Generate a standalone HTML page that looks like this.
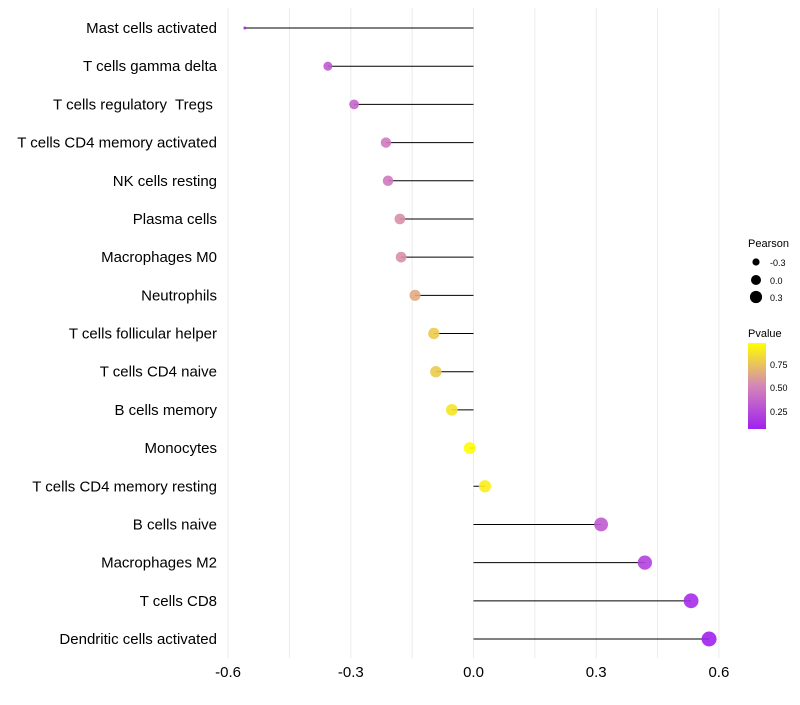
<!DOCTYPE html>
<html><head><meta charset="utf-8"><style>
body{margin:0;background:#fff;font-family:"Liberation Sans",sans-serif}
text{white-space:pre}
</style></head><body>
<svg id="chart" width="800" height="700" xmlns="http://www.w3.org/2000/svg" font-family="Liberation Sans, sans-serif">
<defs><linearGradient id="pg" x1="0" y1="1" x2="0" y2="0">
<stop offset="0" stop-color="#a020f0"/><stop offset="0.5" stop-color="#d486b8"/><stop offset="1" stop-color="#ffff00"/></linearGradient></defs>
<g id="grid"></g><g id="marks"></g><g id="labels"></g><g id="ticks"></g>
<g>
<text x="748" y="247" font-size="11">Pearson</text>
<circle cx="756" cy="262" r="3.6" fill="#000"/><text x="770" y="266" font-size="9">-0.3</text>
<circle cx="756" cy="280" r="5" fill="#000"/><text x="770" y="284" font-size="9">0.0</text>
<circle cx="756" cy="297" r="6.1" fill="#000"/><text x="770" y="301" font-size="9">0.3</text>
<text x="748" y="337" font-size="11">Pvalue</text>
<rect x="748" y="343" width="18" height="86" fill="url(#pg)"/>
<text x="770" y="368" font-size="9">0.75</text>
<text x="770" y="391" font-size="9">0.50</text>
<text x="770" y="415" font-size="9">0.25</text>
</g>
</svg>
<script>
const categories=["Mast cells activated","T cells gamma delta","T cells regulatory  Tregs ","T cells CD4 memory activated","NK cells resting","Plasma cells","Macrophages M0","Neutrophils","T cells follicular helper","T cells CD4 naive","B cells memory","Monocytes","T cells CD4 memory resting","B cells naive","Macrophages M2","T cells CD8","Dendritic cells activated"];
const pearson=[-0.559,-0.356,-0.292,-0.214,-0.209,-0.180,-0.177,-0.143,-0.097,-0.092,-0.053,-0.009,0.028,0.312,0.419,0.532,0.576];
const pvalue=[0.05,0.30,0.35,0.45,0.45,0.55,0.55,0.65,0.78,0.78,0.88,0.98,0.92,0.30,0.18,0.08,0.03];
const xTicks=[-0.6,-0.3,0.0,0.3,0.6];
const xTickLabels=["-0.6","-0.3","0.0","0.3","0.6"];
const NS="http://www.w3.org/2000/svg";
const x=v=>473.5+409*v;
const y=i=>28+i*(639-28)/16;
function mk(t,a,p){const e=document.createElementNS(NS,t);for(const k in a)e.setAttribute(k,a[k]);p.appendChild(e);return e;}
function lerp(a,b,t){return a.map((v,i)=>Math.round(v+(b[i]-v)*t));}
function col(p){const s=[[160,32,240],[212,134,184],[255,255,0]];const t=Math.max(0,Math.min(1,(p-0.02)/0.97));const c=t<0.5?lerp(s[0],s[1],t*2):lerp(s[1],s[2],(t-0.5)*2);return `rgb(${c})`;}
const g=document.getElementById('grid'),m=document.getElementById('marks'),lb=document.getElementById('labels'),tk=document.getElementById('ticks');
for(let v=-0.6;v<=0.61;v+=0.15){const l=mk('line',{x1:x(v),x2:x(v),y1:8,y2:658,stroke:'#ebebeb','stroke-width':1},g);

}
const pmin=Math.min(...pearson),pmax=Math.max(...pearson);
categories.forEach((c,i)=>{
const ln=mk('line',{x1:x(0),x2:x(pearson[i]),y1:y(i),y2:y(i),stroke:'#000','stroke-width':1},m);


const t=(pearson[i]-pmin)/(pmax-pmin);const r=1.5+6*Math.pow(t,0.4);
const ci=mk('circle',{cx:x(pearson[i]),cy:y(i),r:r,fill:col(pvalue[i]),'fill-opacity':0.9},m);


const tx=mk('text',{x:217,y:y(i)+5,'font-size':15,'text-anchor':'end',fill:'#000'},lb);tx.textContent=c;


});
xTicks.forEach((v,i)=>{const tx=mk('text',{x:x(v),y:677,'font-size':15,'text-anchor':'middle',fill:'#000'},tk);tx.textContent=xTickLabels[i];

});
</script>
</body></html>
